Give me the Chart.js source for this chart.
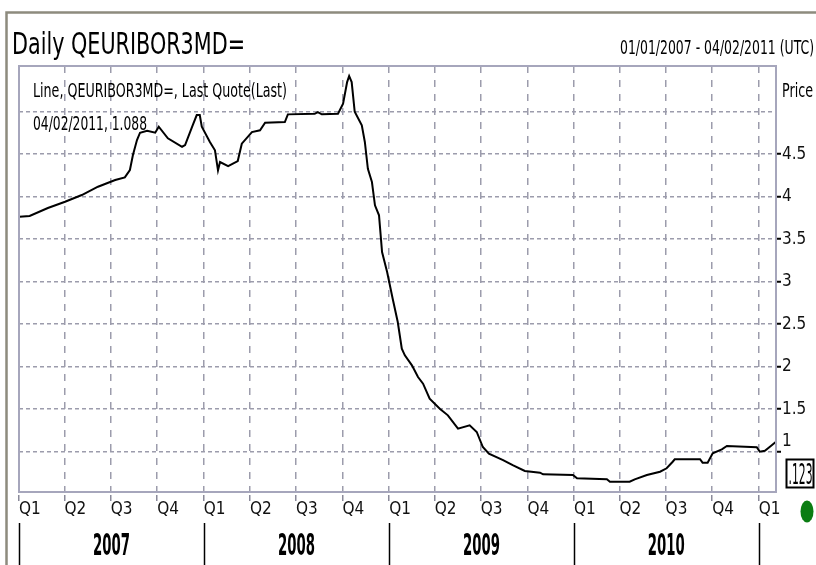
<!DOCTYPE html>
<html><head><meta charset="utf-8">
<script src="https://cdn.jsdelivr.net/npm/chart.js@4.4.1/dist/chart.umd.min.js"></script>
<style>html,body{margin:0;padding:0;background:#fff;}canvas{display:block}</style>
</head><body>
<canvas id="c" width="816" height="565"></canvas>
<script>
// ---- data ----
const dates = ['2007-01-02','2007-01-22','2007-02-27','2007-04-02','2007-05-05','2007-06-06','2007-07-10','2007-07-29','2007-08-08','2007-08-14',
 '2007-08-22','2007-08-28','2007-09-11','2007-09-27','2007-10-04','2007-10-22','2007-11-19','2007-11-25','2007-12-09','2007-12-18',
 '2007-12-24','2007-12-28','2008-01-13','2008-01-23','2008-01-29','2008-02-02','2008-02-18','2008-03-08','2008-03-16','2008-04-05',
 '2008-04-21','2008-05-01','2008-06-09','2008-06-15','2008-08-07','2008-08-13','2008-08-21','2008-09-22','2008-10-02','2008-10-10',
 '2008-10-14','2008-10-19','2008-10-25','2008-11-08','2008-11-14','2008-11-20','2008-11-28','2008-12-04','2008-12-12','2008-12-18',
 '2008-12-28','2009-01-08','2009-01-18','2009-01-26','2009-02-01','2009-02-15','2009-02-27','2009-03-09','2009-03-22','2009-04-11',
 '2009-04-27','2009-05-17','2009-06-09','2009-06-23','2009-07-05','2009-07-17','2009-08-14','2009-09-02','2009-09-26','2009-10-26',
 '2009-11-01','2009-12-30','2010-01-07','2010-03-07','2010-03-13','2010-04-21','2010-05-01','2010-05-25','2010-06-20','2010-07-03',
 '2010-07-15','2010-07-19','2010-09-07','2010-09-12','2010-09-22','2010-10-02','2010-10-20','2010-10-30','2010-12-28','2011-01-03',
 '2011-01-13','2011-01-23','2011-02-04'];
const rates = [3.765,3.773,3.867,3.941,4.02,4.118,4.196,4.228,4.314,4.49,
 4.667,4.753,4.776,4.753,4.824,4.687,4.588,4.608,4.824,4.961,
 4.961,4.824,4.644,4.546,4.311,4.408,4.361,4.42,4.624,4.761,
 4.781,4.871,4.879,4.969,4.976,4.996,4.969,4.976,5.094,5.349,
 5.42,5.349,5.0,4.84,4.644,4.329,4.173,3.899,3.781,3.349,
 3.114,2.8,2.526,2.212,2.134,2.016,1.879,1.8,1.624,1.506,
 1.428,1.271,1.311,1.232,1.055,0.976,0.902,0.843,0.773,0.753,
 0.734,0.726,0.687,0.675,0.647,0.647,0.675,0.726,0.765,0.805,
 0.882,0.911,0.911,0.871,0.871,0.981,1.028,1.067,1.052,1.0,
 1.012,1.059,1.118];
const quarterLabels = ['Q1','Q2','Q3','Q4'];
const yearLabels = ['2007','2008','2009','2010'];
const priceTicks = [1,1.5,2,2.5,3,3.5,4,4.5,5];
const startDate = '2007-01-01';
const endDate = '2011-02-04';
const titleText = 'Daily QEURIBOR3MD=';
const rangeText = '01/01/2007 - 04/02/2011 (UTC)';
const legendText = 'Line, QEURIBOR3MD=, Last Quote(Last)';
const lastText = '04/02/2011, 1.088';
const axisTitle = 'Price';
const boxText = '.123';

// ---- helpers ----
function hasFont(name){
  const c = document.createElement('canvas').getContext('2d');
  const s = 'Q1 2007 abcdefgMW.,';
  c.font = '40px monospace'; const w1 = c.measureText(s).width;
  c.font = '40px "' + name + '", monospace'; return c.measureText(s).width !== w1;
}
const NARROW = hasFont('Liberation Sans Narrow') ? 'Liberation Sans Narrow'
  : (hasFont('DejaVu Sans Condensed') ? 'DejaVu Sans Condensed' : 'Liberation Sans');
const DAY = 86400000;
const dayOf = s => { const [y,m,d] = s.split('-').map(Number); const [y0,m0,d0] = startDate.split('-').map(Number);
  return Math.round((Date.UTC(y,m-1,d) - Date.UTC(y0,m0-1,d0)) / DAY); };
const points = dates.map((d,i) => ({x: dayOf(d), y: rates[i]}));
const quarterDays = [];
yearLabels.concat([String(+yearLabels[yearLabels.length-1] + 1)]).forEach(y => {
  for (let q = 0; q < 4; q++) {
    const s = y + '-' + String(q*3+1).padStart(2,'0') + '-01';
    if (dayOf(s) <= dayOf(endDate)) quarterDays.push(dayOf(s));
  }
});

function fitText(ctx, txt, x, base, w, cap, bold, align) {
  const size = cap / 0.716;
  ctx.save();
  ctx.font = (bold ? 'bold ' : '') + size.toFixed(2) + 'px "' + NARROW + '", "Liberation Sans", sans-serif';
  const mw = ctx.measureText(txt).width;
  const sx = w / mw;
  ctx.translate(align === 'center' ? x - w/2 : x, base);
  ctx.scale(sx, 1);
  ctx.fillStyle = '#000';
  ctx.textBaseline = 'alphabetic'; ctx.textAlign = 'left';
  ctx.fillText(txt, 0, 0);
  ctx.restore();
}

const decor = {
  id: 'decor',
  afterDraw(chart) {
    const ctx = chart.ctx, a = chart.chartArea, xs = chart.scales.x;
    ctx.save();
    // outer frame
    ctx.strokeStyle = '#8d8b7e'; ctx.lineWidth = 2.5;
    ctx.beginPath(); ctx.moveTo(6.5, 565); ctx.lineTo(6.5, 12.5); ctx.lineTo(816, 12.5); ctx.stroke();
    // plot border
    ctx.strokeStyle = '#a6a6bc'; ctx.lineWidth = 2;
    ctx.strokeRect(a.left, a.top, a.right - a.left, a.bottom - a.top);
    // titles
    fitText(ctx, titleText, 12, 54, 233, 21.5, false);
    fitText(ctx, rangeText, 620, 54, 194, 14, false);
    fitText(ctx, legendText, 33, 97, 254, 14, false);
    fitText(ctx, lastText, 33, 130, 114, 14.5, false);
    fitText(ctx, axisTitle, 782, 97, 31, 13.3, false);
    // last-value box
    ctx.strokeStyle = '#000'; ctx.lineWidth = 2;
    ctx.strokeRect(786.5, 459.5, 27, 28);
    fitText(ctx, boxText, 788.5, 484, 24, 20, false);
    // year row
    const bounds = yearLabels.concat([String(+yearLabels[yearLabels.length-1] + 1)]).map(y => xs.getPixelForValue(dayOf(y + '-01-01')));
    ctx.strokeStyle = '#000'; ctx.lineWidth = 1.5;
    bounds.forEach(px => { ctx.beginPath(); ctx.moveTo(Math.round(px)+0.5, 523); ctx.lineTo(Math.round(px)+0.5, 565); ctx.stroke(); });
    yearLabels.forEach((y,i) => fitText(ctx, y, (bounds[i] + bounds[i+1]) / 2, 555, 37, 21, true, 'center'));
    // status dot
    ctx.fillStyle = '#0b7d12';
    ctx.beginPath(); ctx.ellipse(807, 511.5, 6.5, 11, 0, 0, Math.PI*2); ctx.fill();
    ctx.restore();
  }
};

new Chart(document.getElementById('c'), {
  type: 'line',
  data: { datasets: [{ data: points, borderColor: '#000', borderWidth: 2, pointRadius: 0, tension: 0, fill: false }] },
  options: {
    responsive: false, animation: false, devicePixelRatio: 1,
    layout: { autoPadding: false, padding: { left: 19, top: 66, right: 0, bottom: 0 } },
    plugins: { legend: { display: false }, tooltip: { enabled: false }, title: { display: false } },
    scales: {
      x: {
        type: 'linear', min: 0, max: dayOf(endDate),
        afterBuildTicks: s => { s.ticks = quarterDays.map(v => ({ value: v })); },
        afterFit: s => { s.height = 565 - 492; },
        grid: { color: '#9c9cac', lineWidth: 1.5, tickLength: 9, tickColor: '#8a8a9a', tickWidth: 1.5, tickBorderDash: [0, 3, 6, 60] },
        border: { display: false, dash: [7, 7] },
        ticks: { autoSkip: false, maxRotation: 0, minRotation: 0, align: 'start', padding: -2, color: '#111',
          font: { family: NARROW, size: 17 }, callback: (v, i) => quarterLabels[i % 4] }
      },
      y: {
        type: 'linear', position: 'right', min: 0.526, max: 5.538,
        afterBuildTicks: s => { s.ticks = priceTicks.map(v => ({ value: v })); },
        afterFit: s => { s.width = 816 - 776; },
        grid: { color: '#9c9cac', lineWidth: 1.5, tickLength: 5, tickWidth: 2, tickBorderDash: [],
          tickColor: c => (c.tick && c.tick.value === 5) ? 'rgba(0,0,0,0)' : '#000' },
        border: { display: false, dash: [4, 3] },
        ticks: { padding: 1, color: '#111', font: { family: NARROW, size: 17 },
          callback: v => v === 5 ? '' : (v === 1 ? ['1', ''] : String(v)) }
      }
    }
  },
  plugins: [decor]
});
</script>
</body></html>
